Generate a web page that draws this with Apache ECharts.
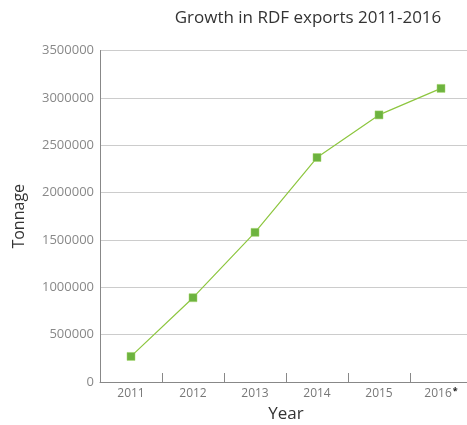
<!DOCTYPE html>
<html>
<head>
<meta charset="utf-8">
<script src="https://cdn.jsdelivr.net/npm/echarts@6/dist/echarts.min.js"></script>
<style>html,body{margin:0;padding:0;background:#fff;}#c{width:467px;height:425px;}</style>
</head>
<body>
<div id="c"></div>
<script>
var years = ['2011', '2012', '2013', '2014', '2015', '2016'];
var tonnage = [270000, 890000, 1580000, 2370000, 2820000, 3100000];
var yTicks = [0, 500000, 1000000, 1500000, 2000000, 2500000, 3000000, 3500000];

var chart = echarts.init(document.getElementById('c'), null, {renderer: 'canvas'});
chart.setOption({
  animation: false,
  backgroundColor: '#fff',
  textStyle: {fontFamily: 'Open Sans'},
  title: {
    text: 'Growth in RDF exports 2011-2016',
    left: 303, top: 5, textAlign: 'center',
    textStyle: {fontSize: 17, fontWeight: 'normal', color: '#333', fontFamily: 'Open Sans'}
  },
  grid: {left: 100, top: 50.5, width: 372, bottom: 43, containLabel: false, outerBoundsMode: 'none'},
  xAxis: {
    type: 'category',
    data: years,
    boundaryGap: true,
    name: 'Year',
    nameLocation: 'middle',
    nameGap: 24,
    nameTextStyle: {fontSize: 17, color: '#333', fontFamily: 'Open Sans'},
    axisLine: {show: true, lineStyle: {color: '#888', width: 1}},
    axisTick: {show: true, inside: true, length: 9, interval: 0, alignWithLabel: false, lineStyle: {color: '#888', width: 1}},
    axisLabel: {
      color: '#777', fontSize: 12, lineHeight: 14, margin: 5, interval: 0,
      formatter: function (v) { return v === '2016' ? v + '{s|*}' : v; },
      rich: {s: {fontSize: 9, lineHeight: 14, color: '#222', fontWeight: 'bold', verticalAlign: 'top', padding: [0, 0, 0, 1]}}
    },
    splitLine: {show: false}
  },
  yAxis: {
    type: 'value',
    min: yTicks[0], max: yTicks[yTicks.length - 1], interval: 500000,
    name: 'Tonnage',
    nameLocation: 'middle',
    nameGap: 73,
    nameRotate: 90,
    nameTextStyle: {fontSize: 16, color: '#333', fontFamily: 'Open Sans'},
    axisLine: {show: true, lineStyle: {color: '#888', width: 1}},
    axisTick: {show: false},
    axisLabel: {color: '#888', fontSize: 13, margin: 6, formatter: function (v) { return String(v); }},
    splitLine: {lineStyle: {color: '#ccc', width: 1}}
  },
  series: [{
    type: 'line',
    data: tonnage,
    symbol: 'rect',
    symbolSize: 8,
    lineStyle: {color: '#8dc63f', width: 1.2},
    itemStyle: {color: '#6db33f', borderColor: '#a5d46a', borderWidth: 0.5}
  }]
});
</script>
</body>
</html>
